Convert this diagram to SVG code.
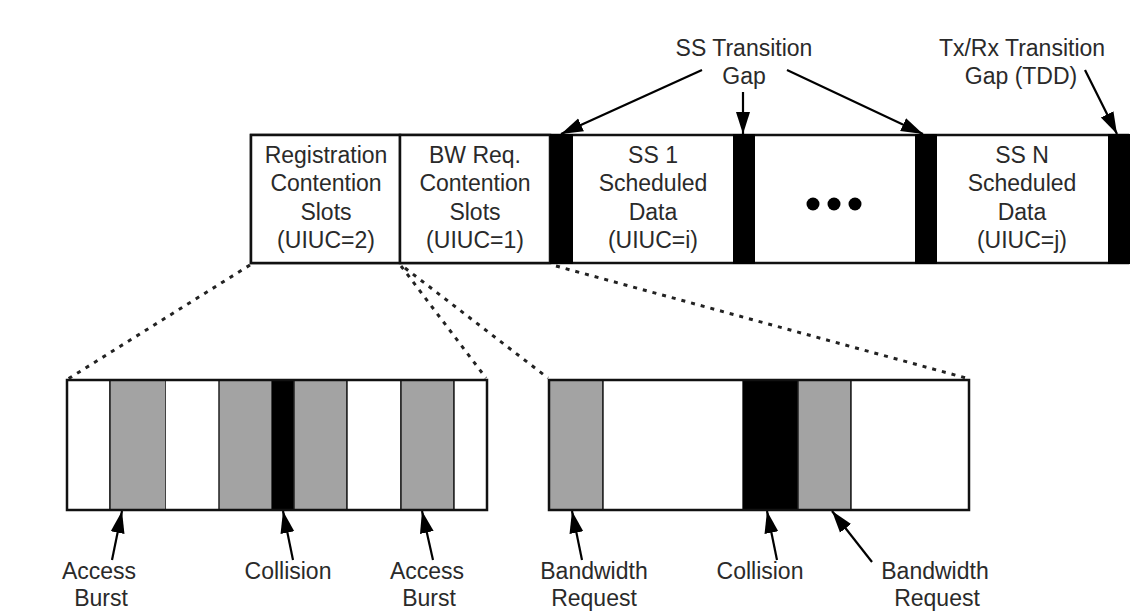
<svg xmlns="http://www.w3.org/2000/svg" width="1130" height="613" viewBox="0 0 1130 613">
<defs>
<style>
text{font-family:"Liberation Sans",Arial,sans-serif;font-size:23px;fill:#2a2a2a;text-anchor:middle}
.cell{fill:#fff;stroke:#111;stroke-width:2.5}
.gap{fill:#000}
.gray{fill:#a3a3a3;stroke:#222;stroke-width:1.5}
.wh{fill:#fff;stroke:#222;stroke-width:1.5}
.arr{stroke:#000;stroke-width:2.2;fill:none;marker-end:url(#ah)}
.dot{stroke:#222;stroke-width:3;fill:none;stroke-dasharray:4 6}
</style>
<marker id="ah" markerUnits="userSpaceOnUse" markerWidth="23" markerHeight="16" refX="22" refY="8" orient="auto">
<path d="M0,1 L22,8 L0,15 Z" fill="#000"/>
</marker>
</defs>
<rect width="1130" height="613" fill="#fff"/>

<g id="frame">
<rect class="cell" x="251" y="135" width="877" height="128"/>
</g>
<g id="registration">
<rect class="cell" x="251" y="135" width="149" height="128"/>
<text x="326" y="163">Registration</text>
<text x="326" y="191">Contention</text>
<text x="326" y="220">Slots</text>
<text x="326" y="248">(UIUC=2)</text>
</g>
<g id="bwreq">
<rect class="cell" x="400" y="135" width="150" height="128"/>
<text x="475" y="163">BW Req.</text>
<text x="475" y="191">Contention</text>
<text x="475" y="220">Slots</text>
<text x="475" y="248">(UIUC=1)</text>
</g>
<g id="gap1"><rect class="gap" x="550" y="134" width="23" height="130"/></g>
<g id="ss1">
<text x="653" y="163">SS 1</text>
<text x="653" y="191">Scheduled</text>
<text x="653" y="220">Data</text>
<text x="653" y="248">(UIUC=i)</text>
</g>
<g id="gap2"><rect class="gap" x="733" y="134" width="22" height="130"/></g>
<g id="ellipsis">
<circle cx="813" cy="204" r="6.5" fill="#000"/>
<circle cx="834" cy="204" r="6.5" fill="#000"/>
<circle cx="855" cy="204" r="6.5" fill="#000"/>
</g>
<g id="gap3"><rect class="gap" x="915" y="134" width="22" height="130"/></g>
<g id="ssn">
<text x="1022" y="163">SS N</text>
<text x="1022" y="191">Scheduled</text>
<text x="1022" y="220">Data</text>
<text x="1022" y="248">(UIUC=j)</text>
</g>
<g id="gap4"><rect class="gap" x="1108" y="134" width="22" height="130"/></g>

<g id="label-ss-gap">
<text x="744" y="56">SS Transition</text>
<text x="744" y="84">Gap</text>
</g>
<g id="label-txrx-gap">
<text x="1022" y="56">Tx/Rx Transition</text>
<text x="1021" y="84">Gap (TDD)</text>
</g>

<g id="reg-slots">
<rect class="wh" x="67" y="380" width="43" height="130"/>
<rect class="gray" x="110" y="380" width="56" height="130"/>
<rect class="wh" x="166" y="380" width="53" height="130" style="stroke:none"/>
<rect class="gray" x="219" y="380" width="53" height="130"/>
<rect x="272" y="380" width="22" height="130" fill="#000"/>
<rect class="gray" x="294" y="380" width="53" height="130"/>
<rect class="wh" x="347" y="380" width="54" height="130"/>
<rect class="gray" x="401" y="380" width="53" height="130"/>
<rect class="wh" x="454" y="380" width="33" height="130"/>
<rect x="67" y="380" width="420" height="130" fill="none" stroke="#111" stroke-width="2.5"/>
</g>
<g id="bw-slots">
<rect class="gray" x="549" y="380" width="54" height="130"/>
<rect class="wh" x="603" y="380" width="140" height="130"/>
<rect x="743" y="380" width="55" height="130" fill="#000"/>
<rect class="gray" x="798" y="380" width="53" height="130"/>
<rect class="wh" x="851" y="380" width="118" height="130"/>
<rect x="549" y="380" width="420" height="130" fill="none" stroke="#111" stroke-width="2.5"/>
</g>

<g id="bottom-labels">
<text x="99" y="579">Access</text>
<text x="101" y="606">Burst</text>
<text x="288" y="579">Collision</text>
<text x="427" y="579">Access</text>
<text x="429" y="606">Burst</text>
<text x="594" y="579">Bandwidth</text>
<text x="594" y="606">Request</text>
<text x="760" y="579">Collision</text>
<text x="935" y="579">Bandwidth</text>
<text x="937" y="606">Request</text>
</g>

<g id="connectors">
<line class="dot" x1="250" y1="265" x2="68" y2="379"/>
<line class="dot" x1="401" y1="266" x2="486" y2="378"/>
<line class="dot" x1="405" y1="268" x2="548" y2="378"/>
<line class="dot" x1="556" y1="266" x2="966" y2="378"/>
<line class="arr" x1="702" y1="70" x2="561" y2="134"/>
<line class="arr" x1="743" y1="92" x2="743" y2="134"/>
<line class="arr" x1="787" y1="70" x2="923" y2="134"/>
<line class="arr" x1="1085" y1="70" x2="1117" y2="134"/>
<line class="arr" x1="112" y1="560" x2="122" y2="511"/>
<line class="arr" x1="293" y1="560" x2="283" y2="511"/>
<line class="arr" x1="433" y1="560" x2="422" y2="511"/>
<line class="arr" x1="582" y1="560" x2="572" y2="511"/>
<line class="arr" x1="777" y1="560" x2="767" y2="511"/>
<line class="arr" x1="872" y1="562" x2="832" y2="511"/>
</g>
</svg>
